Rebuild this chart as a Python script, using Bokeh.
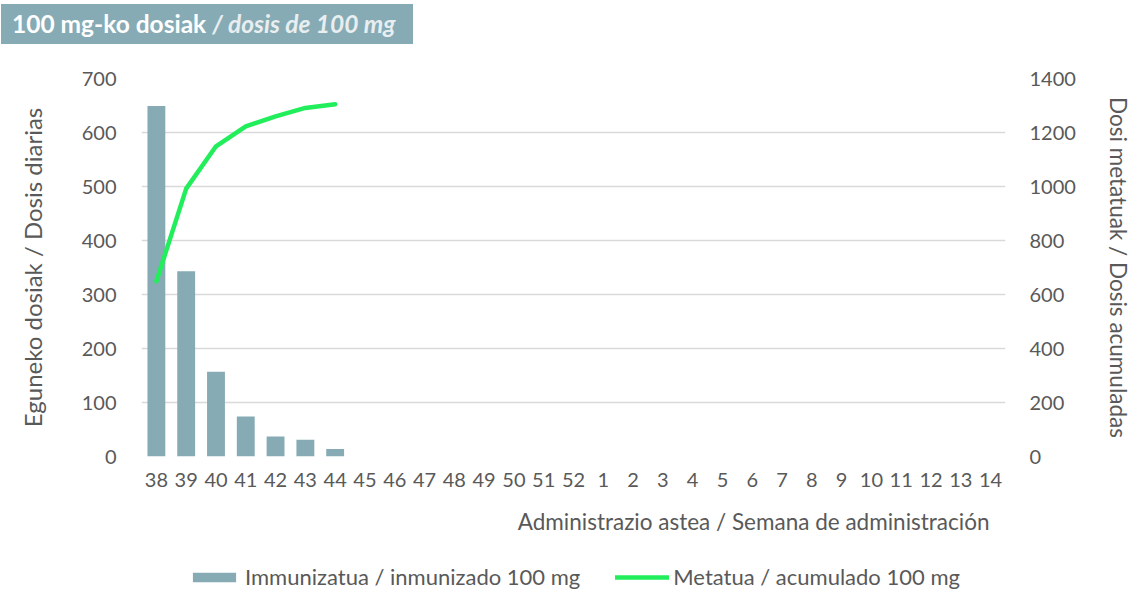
from bokeh.plotting import figure
from bokeh.layouts import column
from bokeh.models import (FactorRange, Range1d, LinearAxis, FixedTicker, Title, Div,
                          Legend, LegendItem, ColumnDataSource)
from bokeh.embed import file_html
from bokeh.resources import INLINE

title_main = "100 mg-ko dosiak"
title_sub = "/ dosis de 100 mg"
weeks = ["38", "39", "40", "41", "42", "43", "44", "45", "46", "47", "48", "49", "50",
         "51", "52", "1", "2", "3", "4", "5", "6", "7", "8", "9", "10", "11", "12", "13", "14"]
daily_weeks = ["38", "39", "40", "41", "42", "43", "44"]
daily_doses = [649, 343, 157, 74, 37, 31, 14]
cum_weeks = ["38", "39", "40", "41", "42", "43", "44"]
cum_doses = [649, 992, 1149, 1223, 1260, 1291, 1305]
left_ticks = [0, 100, 200, 300, 400, 500, 600, 700]
right_ticks = [0, 200, 400, 600, 800, 1000, 1200, 1400]

FONT = "Lato"
TXT = "#595959"
BAR = "#86abb5"
GREEN = "#22ee5c"
GRID = "#d9d9d9"

# ---- title banner -------------------------------------------------------
title_div = Div(
    text=(f'<div style="padding:4px 0 0 1px;">'
          f'<div style="width:412px;height:40px;box-sizing:border-box;padding-left:11px;'
          f'background:{BAR};font-family:Lato;font-weight:bold;font-size:24.5px;'
          f'line-height:40px;color:white;white-space:nowrap;">'
          f'{title_main} <span style="font-style:italic;color:#e9eef0;">{title_sub}</span>'
          f'</div></div>'),
    width=1134, height=48, margin=0)

# ---- main chart ---------------------------------------------------------
p = figure(width=1134, height=508, x_range=FactorRange(*weeks, range_padding=0),
           y_range=Range1d(0, 700), output_backend="svg", toolbar_location=None,
           min_border_left=141, min_border_right=129, min_border_top=30,
           min_border_bottom=100)
p.extra_y_ranges = {"cum": Range1d(0, 1400), "lab": Range1d(0, 1)}
p.outline_line_color = None
p.title = None

src_bar = ColumnDataSource(dict(x=daily_weeks, top=daily_doses))
src_line = ColumnDataSource(dict(x=cum_weeks, y=cum_doses))
bars = p.vbar(x="x", top="top", width=0.6, source=src_bar, fill_color=BAR, line_color=None)
line = p.line(x="x", y="y", source=src_line, y_range_name="cum", line_color=GREEN,
              line_width=4.5, line_cap="round", line_join="round")

def style_axis(ax, label="", standoff=0, label_size="22.5px"):
    ax.axis_line_color = None
    ax.major_tick_line_color = None
    ax.minor_tick_line_color = None
    ax.major_tick_out = 0
    ax.major_tick_in = 0
    ax.minor_tick_out = 0
    ax.minor_tick_in = 0
    ax.major_label_text_font = FONT
    ax.major_label_text_font_size = "20px"
    ax.major_label_text_color = TXT
    ax.axis_label = label
    ax.axis_label_standoff = standoff
    ax.axis_label_text_font = FONT
    ax.axis_label_text_font_size = label_size
    ax.axis_label_text_font_style = "normal"
    ax.axis_label_text_color = TXT

style_axis(p.xaxis[0])
style_axis(p.yaxis[0])
p.yaxis[0].ticker = FixedTicker(ticks=left_ticks)
p.yaxis[0].major_label_standoff = 25
p.xaxis[0].major_label_standoff = 16

rax = LinearAxis(y_range_name="cum", ticker=FixedTicker(ticks=right_ticks))
style_axis(rax, "Dosi metatuak / Dosis acumuladas", 26)
rax.major_label_standoff = 24
p.add_layout(rax, "right")

lax = LinearAxis(y_range_name="lab", ticker=FixedTicker(ticks=[]), bounds=(0, 0.865))
style_axis(lax, "Eguneko dosiak / Dosis diarias", 32, "24px")
lax.major_label_standoff = 0
p.add_layout(lax, "left")

p.xgrid.grid_line_color = None
p.ygrid.grid_line_color = GRID
p.ygrid.grid_line_width = 1.5

xlabel = Title(text="Administrazio astea / Semana de administración", align="right",
               offset=16, standoff=32, text_font=FONT, text_font_style="normal",
               text_font_size="22.5px", text_color=TXT)
p.add_layout(xlabel, "below")

# ---- legend strip (same data, drawn far out of view so only the legend shows) ----
pl = figure(width=1134, height=34, x_range=FactorRange(*weeks, range_padding=0),
            y_range=Range1d(50000, 60000), output_backend="svg", toolbar_location=None,
            x_axis_type=None, y_axis_type=None, min_border=0)
pl.title = None
pl.outline_line_color = None
for g in pl.grid:
    g.visible = False
leg_bar = pl.vbar(x="x", top="top", width=0.6, source=src_bar, fill_color=BAR,
                  line_color=None)
leg_line = pl.line(x="x", y="y", source=src_line, line_color=GREEN, line_width=4.5,
                   line_cap="round")

legend = Legend(items=[LegendItem(label="Immunizatua / inmunizado 100 mg", renderers=[leg_bar]),
                       LegendItem(label="Metatua / acumulado 100 mg", renderers=[leg_line])],
                location=(46, 0), orientation="horizontal", padding=0, margin=0,
                spacing=35, glyph_width=54, glyph_height=12, label_standoff=4,
                label_height=26, label_text_font=FONT, label_text_font_size="22px",
                label_text_color=TXT, border_line_color=None, background_fill_alpha=0)
pl.add_layout(legend)

layout = column(title_div, p, pl, spacing=0)
open("out.html", "w").write(file_html(layout, INLINE))
